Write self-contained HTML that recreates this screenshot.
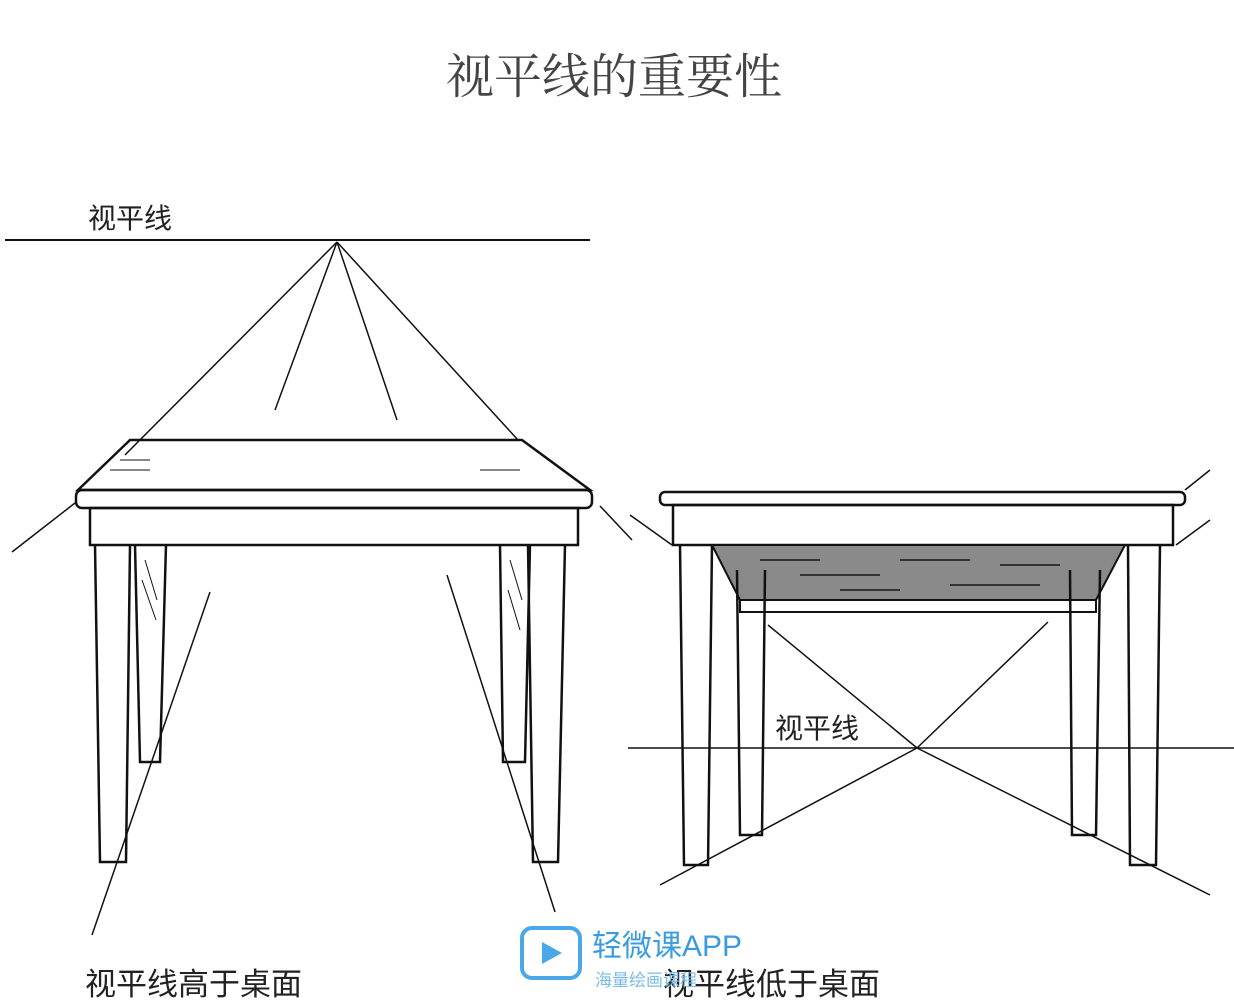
<!DOCTYPE html>
<html><head><meta charset="utf-8"><style>
html,body{margin:0;padding:0;background:#fff;width:1234px;height:1004px;overflow:hidden}
svg{display:block}
</style></head><body>
<svg width="1234" height="1004" viewBox="0 0 1234 1004" xmlns="http://www.w3.org/2000/svg">
<g font-family="'Liberation Serif','Noto Serif CJK SC',serif">
<text x="614" y="93" font-size="48" text-anchor="middle" fill="#444">视平线的重要性</text>
</g>
<g font-family="'Liberation Sans','Noto Sans CJK SC',sans-serif" fill="#222">
<text x="88" y="228" font-size="28">视平线</text>
<text x="775" y="738" font-size="28">视平线</text>
<text x="85" y="995" font-size="31">视平线高于桌面</text>
<text x="663" y="995" font-size="31">视平线低于桌面</text>
</g>
<g stroke="#111" fill="none" stroke-width="2">
<line x1="5" y1="240" x2="590" y2="240"/>
<line x1="337" y1="242" x2="125" y2="455" stroke-width="1.5"/>
<line x1="75" y1="503" x2="12" y2="552" stroke-width="1.5"/>
<line x1="337" y1="242" x2="275" y2="410" stroke-width="1.5"/>
<line x1="337" y1="242" x2="397" y2="420" stroke-width="1.5"/>
<line x1="337" y1="242" x2="518" y2="440" stroke-width="1.5"/>
<line x1="600" y1="506" x2="632" y2="540" stroke-width="1.5"/>
<path d="M130 440 L522 440 L590 490 L78 490 Z" stroke-width="2.5"/>
<rect x="76" y="490" width="516" height="18" rx="6" stroke-width="2.5"/>
<rect x="90" y="508" width="488" height="37" stroke-width="2.5"/>
<path d="M110 470 l40 0 M480 470 l40 0 M120 460 l30 0" stroke-width="1"/>
<path d="M95 545 L100 862 L126 862 L130 545" stroke-width="2.5"/>
<path d="M135 545 L140 762 L160 762 L166 545" stroke-width="2.5"/>
<path d="M528 545 L533 862 L558 862 L565 545" stroke-width="2.5"/>
<path d="M500 545 L503 762 L525 762 L530 545" stroke-width="2.5"/>
<path d="M145 560 l12 40 M142 580 l14 40 M510 560 l12 40 M508 590 l12 40" stroke-width="1"/>
<line x1="210" y1="592" x2="92" y2="935" stroke-width="1.5"/>
<line x1="447" y1="575" x2="555" y2="912" stroke-width="1.5"/>
<rect x="660" y="492" width="525" height="13" rx="5" stroke-width="2.5"/>
<rect x="673" y="505" width="500" height="40" stroke-width="2.5"/>
<path d="M712 545 L740 600 L1096 600 L1125 545 Z" fill="#8a8a8a" stroke-width="2"/>
<path d="M760 560 l60 0 M800 575 l80 0 M900 560 l70 0 M950 585 l90 0 M840 590 l60 0 M1000 565 l60 0" stroke="#333" stroke-width="2"/>
<rect x="740" y="600" width="356" height="12" stroke-width="2"/>
<path d="M680 545 L684 865 L708 865 L712 545" stroke-width="2.5"/>
<path d="M1128 545 L1130 865 L1156 865 L1160 545" stroke-width="2.5"/>
<path d="M737 570 L740 835 L762 835 L765 570" stroke-width="2.5"/>
<path d="M1070 570 L1072 835 L1096 835 L1100 570" stroke-width="2.5"/>
<line x1="628" y1="748" x2="1234" y2="748" stroke-width="1.5"/>
<line x1="917" y1="748" x2="768" y2="625" stroke-width="1.5"/>
<line x1="917" y1="748" x2="1048" y2="622" stroke-width="1.5"/>
<line x1="917" y1="748" x2="660" y2="885" stroke-width="1.5"/>
<line x1="917" y1="748" x2="1210" y2="895" stroke-width="1.5"/>
<line x1="630" y1="515" x2="672" y2="545" stroke-width="1.5"/>
<line x1="1176" y1="545" x2="1210" y2="520" stroke-width="1.5"/>
<line x1="1185" y1="490" x2="1210" y2="470" stroke-width="1.5"/>
</g>
<rect x="522" y="928" width="58" height="50" rx="10" fill="none" stroke="#4aa8e8" stroke-width="4"/>
<path d="M542 942 L562 953 L542 964 Z" fill="#4aa8e8"/>
<text x="592" y="956" font-family="'Liberation Sans','Noto Sans CJK SC',sans-serif" font-size="30" fill="#3a9be0">轻微课APP</text>
<text x="595" y="986" font-family="'Liberation Sans','Noto Sans CJK SC',sans-serif" font-size="17" fill="#7bbbe8">海量绘画课程</text>
</svg>
</body></html>
